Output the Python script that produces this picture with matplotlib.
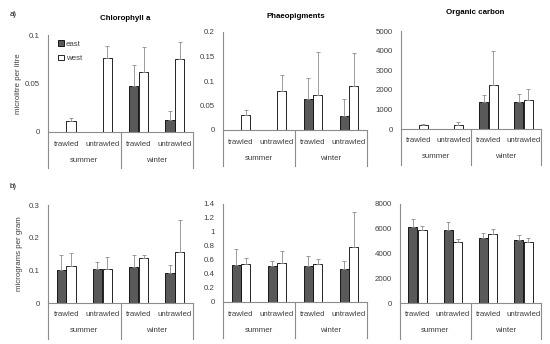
import numpy as np
import matplotlib
matplotlib.use('Agg')
import matplotlib.pyplot as plt
from matplotlib.ticker import FuncFormatter

plt.rcParams['font.family'] = ['Liberation Sans', 'DejaVu Sans']

sites = ['trawled', 'untrawled', 'trawled', 'untrawled']
seasons = ['summer', 'winter']
titles = ['Chlorophyll a', 'Phaeopigments', 'Organic carbon']

# water column (a): east has no summer values
chl_east = [np.nan, np.nan, 0.047, 0.0125]
chl_east_err = [np.nan, np.nan, 0.022, 0.009]
chl_west = [0.0115, 0.0765, 0.0615, 0.075]
chl_west_err = [0.003, 0.012, 0.026, 0.0175]

pha_east = [np.nan, np.nan, 0.0635, 0.028]
pha_east_err = [np.nan, np.nan, 0.042, 0.035]
pha_west = [0.0315, 0.080, 0.072, 0.090]
pha_west_err = [0.010, 0.032, 0.087, 0.068]

oc_east = [np.nan, np.nan, 1370, 1370]
oc_east_err = [np.nan, np.nan, 390, 440]
oc_west = [205, 220, 2230, 1500]
oc_west_err = [50, 120, 1760, 560]

# sediment (b)
sed_chl_east = [0.100, 0.103, 0.110, 0.093]
sed_chl_east_err = [0.048, 0.021, 0.037, 0.022]
sed_chl_west = [0.112, 0.103, 0.138, 0.156]
sed_chl_west_err = [0.040, 0.039, 0.010, 0.097]

sed_pha_east = [0.530, 0.516, 0.521, 0.468]
sed_pha_east_err = [0.225, 0.076, 0.143, 0.124]
sed_pha_west = [0.540, 0.564, 0.549, 0.779]
sed_pha_west_err = [0.090, 0.167, 0.067, 0.511]

sed_oc_east = [6180, 5910, 5260, 5100]
sed_oc_east_err = [600, 600, 410, 410]
sed_oc_west = [5890, 4910, 5590, 4940]
sed_oc_west_err = [350, 245, 350, 350]

W, H = 550, 344
fig = plt.figure(figsize=(5.5, 3.44), dpi=100)

# left, right, top, bottom in pixels (bottom = zero line)
boxes = [
    [(48, 193, 35, 132), (223, 367, 32, 130), (401, 541, 31, 129)],
    [(48, 193, 205, 303), (223, 367, 204, 302), (400, 541, 204, 303)],
]
panels = [
    [(chl_east, chl_east_err, chl_west, chl_west_err, 0.1, 0.05),
     (pha_east, pha_east_err, pha_west, pha_west_err, 0.2, 0.05),
     (oc_east, oc_east_err, oc_west, oc_west_err, 5000, 1000)],
    [(sed_chl_east, sed_chl_east_err, sed_chl_west, sed_chl_west_err, 0.3, 0.1),
     (sed_pha_east, sed_pha_east_err, sed_pha_west, sed_pha_west_err, 1.4, 0.2),
     (sed_oc_east, sed_oc_east_err, sed_oc_west, sed_oc_west_err, 8000, 2000)],
]
title_pos = [(125, 19), (296, 16), (475, 13)]

axis_col = '#8c8c8c'
txt_col = '#404040'
fs = 5.7
x = np.arange(4)
bw = 0.25

for r in range(2):
    for c in range(3):
        l, rt, t, b = boxes[r][c]
        ax = fig.add_axes([l / W, 1 - b / H, (rt - l) / W, (b - t) / H])
        e, ee, w, we, ymax, step = panels[r][c]
        e = np.array(e, float); ee = np.array(ee, float)
        w = np.array(w, float); we = np.array(we, float)
        ok = ~np.isnan(e)
        ax.bar(x[ok] - 0.135, e[ok], bw, color='#595959', edgecolor='black', linewidth=0.6, label='east')
        ax.bar(x + 0.135, w, bw, color='white', edgecolor='black', linewidth=0.6, label='west')
        ax.errorbar(x[ok] - 0.135, e[ok], yerr=[np.zeros(ok.sum()), ee[ok]], fmt='none',
                    ecolor='#8c8c8c', elinewidth=0.6, capsize=1.5, capthick=0.6)
        ax.errorbar(x + 0.135, w, yerr=[np.zeros(4), we], fmt='none',
                    ecolor='#8c8c8c', elinewidth=0.6, capsize=1.5, capthick=0.6)
        ax.set_xlim(-0.5, 3.5)
        ax.set_ylim(0, ymax)
        ax.set_yticks(np.arange(0, ymax + step / 2, step))
        ax.yaxis.set_major_formatter(FuncFormatter(lambda v, p: '%g' % round(v, 3)))
        ax.tick_params(axis='y', length=0, labelsize=fs, labelcolor=txt_col, pad=6)
        ax.set_xticks([])
        for s in ['top', 'right']:
            ax.spines[s].set_visible(False)
        for s in ['left', 'bottom']:
            ax.spines[s].set_color(axis_col)
            ax.spines[s].set_linewidth(0.8)
        # multi-level category axis
        ph = b - t
        tr = ax.get_xaxis_transform()
        for xi, lab in zip(x, sites):
            ax.text(xi, -12 / ph, lab, transform=tr, ha='center', va='center',
                    fontsize=fs, color=txt_col)
        for gi, g in enumerate(seasons):
            ax.text(0.5 + 2 * gi, -28 / ph, g, transform=tr, ha='center', va='center',
                    fontsize=fs, color=txt_col)
        for xs in [-0.5, 1.5, 3.5]:
            ax.plot([xs, xs], [0, -36 / ph], transform=tr, color=axis_col,
                    linewidth=0.8, clip_on=False)
        if r == 0:
            tx, ty = title_pos[c]
            fig.text(tx / W, 1 - ty / H, titles[c], ha='center', va='center',
                     fontsize=fs, fontweight='bold')
        if r == 0 and c == 0:
            ax.legend(loc='upper left', bbox_to_anchor=(0.02, 1.02), frameon=False,
                      fontsize=fs, handlelength=0.7, handleheight=0.7,
                      handletextpad=0.3, labelspacing=0.9, labelcolor=txt_col)
            ax.set_ylabel('microlitre per litre', fontsize=fs, color=txt_col, labelpad=2)
        if r == 1 and c == 0:
            ax.set_ylabel('micrograms per gram', fontsize=fs, color=txt_col, labelpad=4)

fig.text(10 / W, 1 - 15 / H, 'a)', fontsize=fs, va='center')
fig.text(10 / W, 1 - 186 / H, 'b)', fontsize=fs, va='center')

fig.savefig('out.png', dpi=100)
